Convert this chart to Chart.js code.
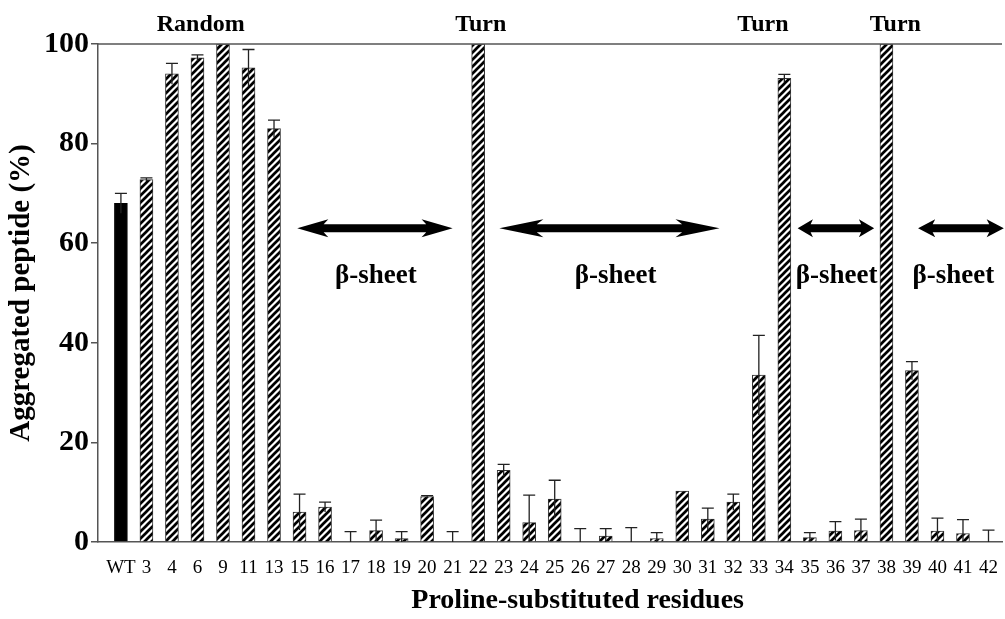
<!DOCTYPE html>
<html>
<head>
<meta charset="utf-8">
<title>Aggregated peptide</title>
<script src="https://cdn.jsdelivr.net/npm/chart.js@4/dist/chart.umd.min.js"></script>
<style>
  html, body { margin: 0; padding: 0; background: #fff; }
  #box { width: 1005px; height: 619px; position: relative; }
</style>
</head>
<body>
<div id="box"><canvas id="myChart"></canvas></div>
<script>
// residues (x categories)
const labels = ['WT','3','4','6','9','11','13','15','16','17','18','19','20','21','22','23','24','25','26','27','28','29','30','31','32','33','34','35','36','37','38','39','40','41','42'];
// aggregated peptide (%)
const values = [68, 72.8, 94, 97.2, 100, 95.2, 83, 6, 7, 0, 2.3, 0.7, 9.1, 0, 100, 14.4, 3.9, 8.6, 0, 1.2, 0, 0.7, 10.2, 4.6, 8, 33.5, 93.1, 0.9, 2.2, 2.3, 100, 34.4, 2.2, 1.7, 0];
// error (+/-)
const errors = [2, 0.3, 2.1, 0.6, 0, 3.7, 1.7, 3.6, 1, 2.1, 2.1, 1.4, 0.2, 2.1, 0, 1.2, 5.5, 3.8, 2.7, 1.5, 2.9, 1.2, 0, 2.2, 1.6, 8, 0.8, 1, 1.9, 2.3, 0, 1.8, 2.6, 2.8, 2.4];
const yTicks = [0, 20, 40, 60, 80, 100];

// structure annotations, in axis units (x = residue index, y = %)
const regionLabels = ['Random', 'Turn', 'Turn', 'Turn'];
const regionX = [3.13, 14.1, 25.16, 30.35];
const sheetFrom = [6.91, 14.83, 26.52, 31.24];
const sheetTo = [13.0, 23.46, 29.52, 34.6];
const sheetLabelX = [9.99, 19.39, 28.05, 32.62];

const FONT = "'Liberation Serif', 'Times New Roman', serif";

// hatch fill  ////
let hatch = () => {
  const s = 7;
  const c = document.createElement('canvas');
  c.width = s; c.height = s;
  const g = c.getContext('2d');
  g.fillStyle = '#fff';
  g.fillRect(0, 0, s, s);
  g.strokeStyle = '#000';
  g.lineWidth = 2.7;
  g.beginPath();
  g.moveTo(0, s); g.lineTo(s, 0);
  g.moveTo(-1, 1); g.lineTo(1, -1);
  g.moveTo(s - 1, s + 1); g.lineTo(s + 1, s - 1);
  g.stroke();
  return g.createPattern(c, 'repeat');
};

const ctx = document.getElementById('myChart');
const pat = hatch();

const errorBars = {
  id: 'errorBars',
  afterDatasetsDraw(chart) {
    const y = chart.scales.y;
    const meta = chart.getDatasetMeta(0);
    const c = chart.ctx;
    c.save();
    c.strokeStyle = '#222';
    c.lineWidth = 1.3;
    meta.data.forEach((bar, i) => {
      const e = errors[i];
      if (!e) return;
      const top = y.getPixelForValue(values[i] + e);
      const low = y.getPixelForValue(Math.max(values[i] - e, 0));
      c.beginPath();
      c.moveTo(bar.x, top); c.lineTo(bar.x, low);
      c.moveTo(bar.x - 6, top); c.lineTo(bar.x + 6, top);
      c.stroke();
    });
    c.restore();
  }
};

let arrow = (c, x1, x2, yy) => {
  const head = (x2 - x1) * 0.2;
  const sh = 4, hh = 9;
  c.beginPath();
  c.moveTo(x1, yy);
  c.lineTo(x1 + head, yy - hh);
  c.lineTo(x1 + head * 0.85, yy - sh);
  c.lineTo(x2 - head * 0.85, yy - sh);
  c.lineTo(x2 - head, yy - hh);
  c.lineTo(x2, yy);
  c.lineTo(x2 - head, yy + hh);
  c.lineTo(x2 - head * 0.85, yy + sh);
  c.lineTo(x1 + head * 0.85, yy + sh);
  c.lineTo(x1 + head, yy + hh);
  c.closePath();
  c.fill();
};

const annotations = {
  id: 'annotations',
  afterDraw(chart) {
    const x = chart.scales.x, y = chart.scales.y, a = chart.chartArea;
    const c = chart.ctx;
    c.save();
    // top frame line
    c.strokeStyle = '#555';
    c.lineWidth = 1.5;
    c.beginPath();
    c.moveTo(a.left, a.top); c.lineTo(a.right, a.top);
    c.stroke();

    c.fillStyle = '#000';
    c.textAlign = 'center';
    c.textBaseline = 'middle';
    c.font = 'bold 24px ' + FONT;
    regionLabels.forEach((t, i) => c.fillText(t, x.getPixelForValue(regionX[i]), y.getPixelForValue(103.9)));

    sheetFrom.forEach((f, i) => arrow(c, x.getPixelForValue(f), x.getPixelForValue(sheetTo[i]), y.getPixelForValue(63)));
    c.font = 'bold 27px ' + FONT;
    sheetLabelX.forEach((v) => c.fillText('β-sheet', x.getPixelForValue(v), y.getPixelForValue(53.4)));

    // x title
    c.font = 'bold 28px ' + FONT;
    c.fillText('Proline-substituted residues', x.getPixelForValue(17.9), 601);
    c.restore();
  }
};

const chart = new Chart(ctx, {
  type: 'bar',
  data: {
    labels: labels,
    datasets: [{
      data: values.map((v, i) => ({ x: i, y: v })),
      backgroundColor: values.map((v, i) => i === 0 ? '#000' : pat),
      borderColor: values.map((v, i) => i === 0 ? '#000' : '#333'),
      borderWidth: 1,
      barThickness: 13
    }]
  },
  options: {
    responsive: true,
    maintainAspectRatio: false,
    animation: false,
    layout: { padding: { top: 44, right: 0, left: 0, bottom: 0 } },
    plugins: {
      legend: { display: false },
      tooltip: { enabled: false }
    },
    scales: {
      x: {
        type: 'linear',
        offset: false,
        min: -0.898,
        max: 34.53,
        grid: { display: false },
        border: { display: true, color: '#555', width: 1.5 },
        afterBuildTicks: (s) => { s.ticks = labels.map((l, i) => ({ value: i })); },
        afterFit: (s) => { s.height = 77; },
        ticks: {
          autoSkip: false,
          maxRotation: 0,
          padding: 7,
          color: '#000',
          font: { family: FONT, size: 19 },
          callback: (v) => labels[v]
        }
      },
      y: {
        min: 0,
        max: 100,
        afterBuildTicks: (s) => { s.ticks = yTicks.map((v) => ({ value: v })); },
        afterFit: (s) => { s.width = 98; },
        grid: { drawOnChartArea: false, drawTicks: true, tickLength: 7, color: '#555', lineWidth: 1.5 },
        border: { display: true, color: '#555', width: 1.5 },
        ticks: {
          padding: 2,
          color: '#000',
          font: { family: FONT, size: 30, weight: 'bold' }
        },
        title: {
          display: true,
          text: 'Aggregated peptide (%)',
          color: '#000',
          padding: { top: 4, bottom: 0 },
          font: { family: FONT, size: 29, weight: 'bold' }
        }
      }
    }
  },
  plugins: [errorBars, annotations]
});
</script>
</body>
</html>
